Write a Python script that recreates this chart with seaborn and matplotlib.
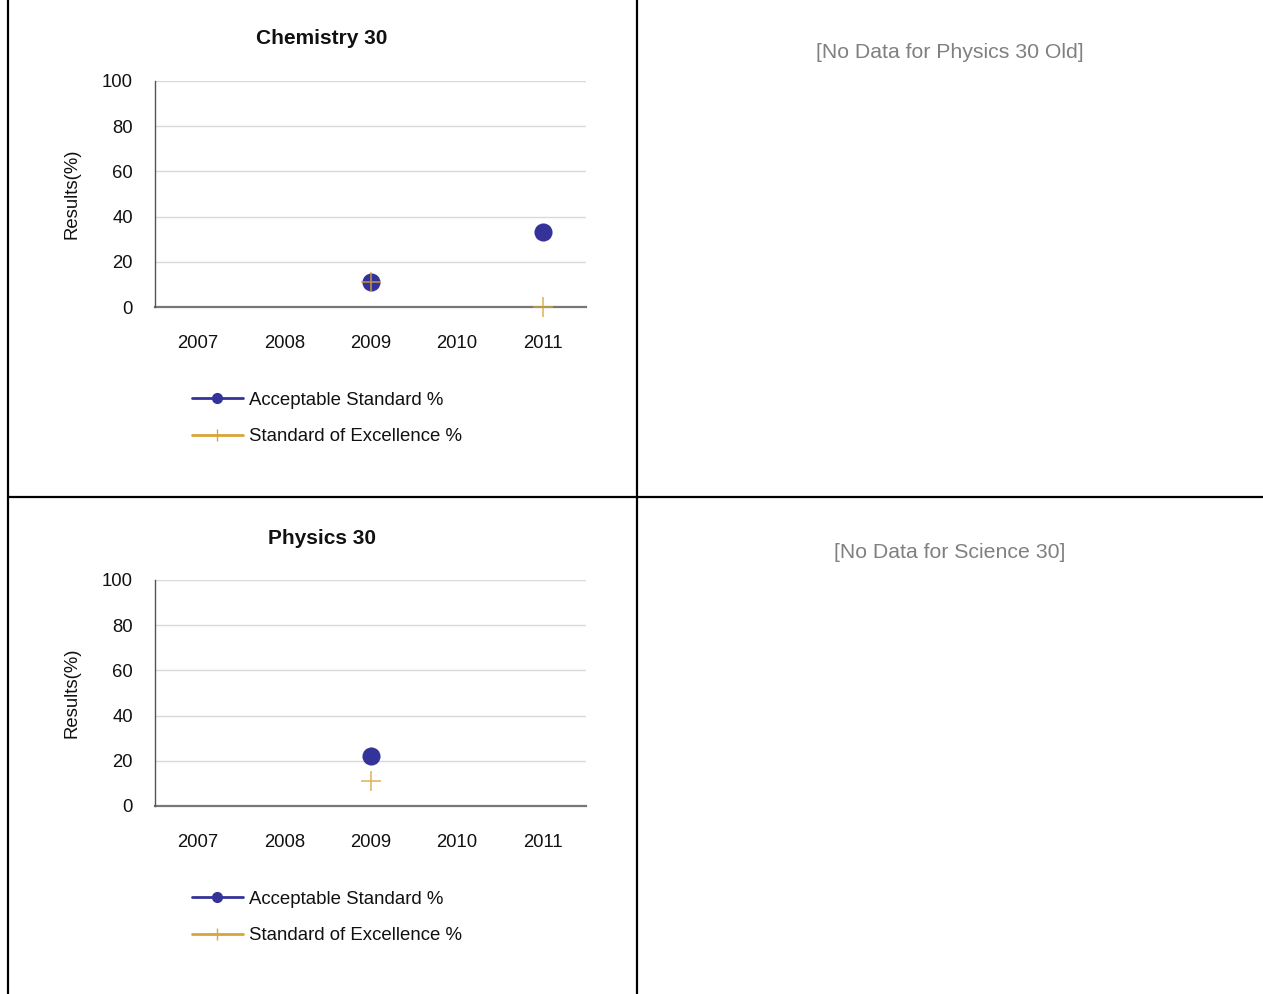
import pandas as pd
import numpy as np
import matplotlib
matplotlib.use("Agg")
import matplotlib.pyplot as plt
from matplotlib.lines import Line2D
import seaborn as sns

# --- Datos ---
YEARS = [2007, 2008, 2009, 2010, 2011]
CHEM_ACCEPTABLE = [np.nan, np.nan, 11.1, np.nan, 33.3]
CHEM_EXCELLENCE = [np.nan, np.nan, 11.1, np.nan, 0.0]
PHYS_ACCEPTABLE = [np.nan, np.nan, 22.2, np.nan, np.nan]
PHYS_EXCELLENCE = [np.nan, np.nan, 11.1, np.nan, np.nan]
Y_TICKS = [0, 20, 40, 60, 80, 100]
SERIES = ["Acceptable Standard %", "Standard of Excellence %"]
NO_DATA = ["[No Data for Physics 30 Old]", "[No Data for Science 30]"]

NAVY = "#333399"
GOLD = "#D9A53A"

sns.set_theme(style="white")
plt.rcParams["font.family"] = ["Liberation Sans", "DejaVu Sans"]

W, H = 1263, 994
fig = plt.figure(figsize=(W / 100, H / 100), dpi=100)


def draw_chart(top_px, title, acc, exc):
    ax = fig.add_axes([155 / W, 1 - (top_px + 226) / H, 431 / W, 226 / H])
    df = pd.DataFrame({"year": YEARS, "acc": acc, "exc": exc})
    sns.scatterplot(data=df, x="year", y="acc", ax=ax, color=NAVY, s=170,
                    marker="o", linewidth=0, zorder=3, clip_on=False)
    sns.scatterplot(data=df, x="year", y="exc", ax=ax, color=GOLD, s=200,
                    marker="+", linewidth=1.2, alpha=0.8, zorder=4,
                    clip_on=False)
    ax.set_xlim(YEARS[0] - 0.5, YEARS[-1] + 0.5)
    ax.set_ylim(0, 100)
    ax.set_xticks(YEARS)
    ax.set_xticklabels([str(y) for y in YEARS])
    ax.set_yticks(Y_TICKS)
    ax.tick_params(axis="both", length=0, labelsize=13.3, colors="#111111")
    ax.tick_params(axis="x", pad=20)
    ax.tick_params(axis="y", pad=16)
    ax.set_xlabel("")
    ax.set_ylabel("Results(%)", fontsize=13.3, color="#111111", labelpad=15.5)
    ax.yaxis.grid(True, color="#d9d9d9", linewidth=1)
    ax.set_axisbelow(True)
    for s in ["top", "right"]:
        ax.spines[s].set_visible(False)
    ax.spines["left"].set_color("#555555")
    ax.spines["left"].set_linewidth(1)
    ax.spines["bottom"].set_color("#777777")
    ax.spines["bottom"].set_linewidth(1.6)
    ax.spines["bottom"].set_zorder(2)

    fig.text(322 / W, 1 - (top_px - 42) / H, title, ha="center", va="center",
             fontsize=15, fontweight="bold", color="#111111")

    handles = [
        Line2D([], [], color=NAVY, linewidth=2, marker="o", markersize=7),
        Line2D([], [], color=GOLD, linewidth=2, marker="+", markersize=9,
               markeredgewidth=1),
    ]
    ax.legend(handles, SERIES, loc="upper left",
              bbox_to_anchor=(175 / W, 1 - (top_px + 294) / H),
              bbox_transform=fig.transFigure, frameon=False, fontsize=13.4,
              handlelength=2.75, handletextpad=0.3, labelspacing=1.05,
              labelcolor="#111111")


draw_chart(81, "Chemistry 30", CHEM_ACCEPTABLE, CHEM_EXCELLENCE)
draw_chart(580, "Physics 30", PHYS_ACCEPTABLE, PHYS_EXCELLENCE)

fig.text(950 / W, 1 - 53 / H, NO_DATA[0], ha="center", va="center",
         fontsize=15.3, color="#808080")
fig.text(950 / W, 1 - 552 / H, NO_DATA[1], ha="center", va="center",
         fontsize=15.3, color="#808080")

# bordes de la tabla
for xs, ys in [([8, 8], [0, H]), ([637, 637], [0, H]), ([8, W], [497, 497])]:
    fig.add_artist(Line2D([x / W for x in xs], [1 - y / H for y in ys],
                          color="black", linewidth=1.6,
                          transform=fig.transFigure))

fig.savefig("out.png", dpi=100)
